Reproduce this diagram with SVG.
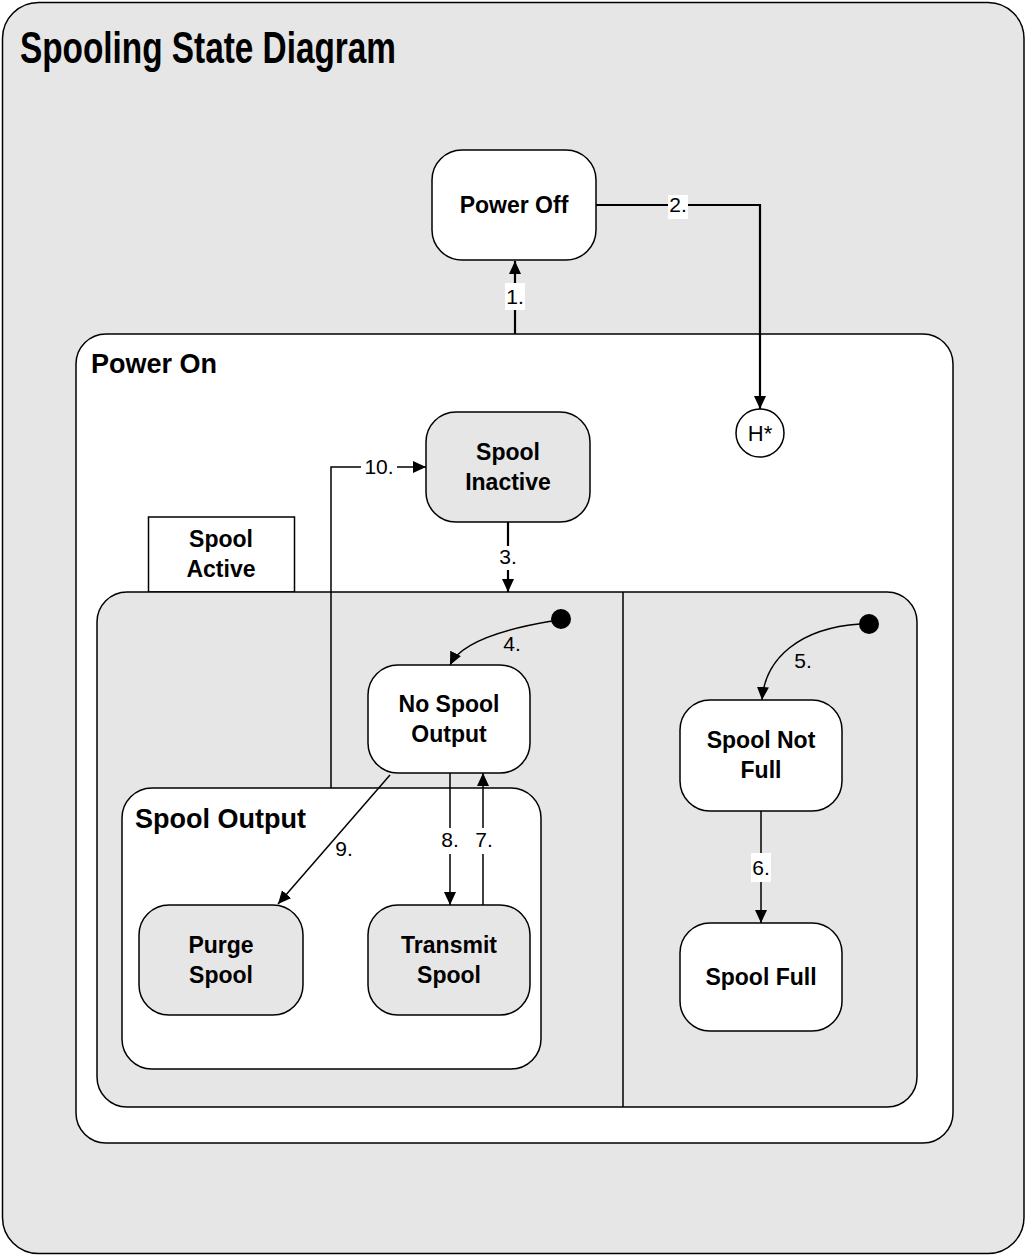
<svg xmlns="http://www.w3.org/2000/svg" width="1026" height="1256" viewBox="0 0 1026 1256">
<defs>
<style>
.frame{fill:#e6e6e6;stroke:#000;stroke-width:1.5}
.white{fill:#fff;stroke:#000;stroke-width:1.5}
.gray{fill:#e6e6e6;stroke:#000;stroke-width:1.5}
.line{fill:none;stroke:#000;stroke-width:1.5}
.thick{fill:none;stroke:#000;stroke-width:2.2}
.t{font-family:"Liberation Sans",Arial,sans-serif;font-weight:bold;font-size:23px;text-anchor:middle;fill:#000}
.h{font-family:"Liberation Sans",Arial,sans-serif;font-weight:bold;font-size:27px;fill:#000}
.n{font-family:"Liberation Sans",Arial,sans-serif;font-size:21px;text-anchor:middle;fill:#000}
.bg{fill:#fff;stroke:none}
</style>
<marker id="arr" markerUnits="userSpaceOnUse" markerWidth="14" markerHeight="14" viewBox="0 0 14 14" refX="13" refY="7" orient="auto">
<path d="M0,1 L13,7 L0,13 Z" fill="#000"/>
</marker>
</defs>

<g id="frame">
<rect class="frame" x="2.5" y="2.5" width="1021.5" height="1251" rx="36"/>
<text x="20" y="63" textLength="376" lengthAdjust="spacingAndGlyphs" style="font-family:'Liberation Sans',Arial,sans-serif;font-weight:bold;font-size:45px">Spooling State Diagram</text>
</g>

<g id="power-on">
<rect class="white" x="76" y="334" width="877" height="809" rx="30"/>
<text class="h" x="91" y="373">Power On</text>
</g>

<g id="spool-active">
<rect class="white" x="148.5" y="517" width="146" height="75"/>
<text class="t" x="221" y="547">Spool</text>
<text class="t" x="221" y="577">Active</text>
<rect class="gray" x="97" y="592" width="820" height="515" rx="30"/>
<line class="line" x1="623" y1="592" x2="623" y2="1107"/>
</g>

<g id="spool-output">
<rect class="white" x="122" y="788" width="419" height="281" rx="30"/>
<text class="h" x="135" y="828">Spool Output</text>
</g>

<g id="power-off">
<rect class="white" x="432" y="150" width="164" height="110" rx="30"/>
<text class="t" x="514" y="213">Power Off</text>
</g>

<g id="history">
<circle class="white" cx="760" cy="433" r="24"/>
<text class="n" x="760" y="441" style="font-size:22px">H*</text>
</g>

<g id="spool-inactive">
<rect class="gray" x="426" y="412" width="164" height="110" rx="30"/>
<text class="t" x="508" y="460">Spool</text>
<text class="t" x="508" y="490">Inactive</text>
</g>

<g id="init-1">
<circle cx="561" cy="619" r="10" fill="#000"/>
</g>
<g id="init-2">
<circle cx="869" cy="624" r="10" fill="#000"/>
</g>

<g id="no-spool-output">
<rect class="white" x="368" y="665" width="162" height="108" rx="30"/>
<text class="t" x="449" y="712">No Spool</text>
<text class="t" x="449" y="742">Output</text>
</g>

<g id="spool-not-full">
<rect class="white" x="680" y="700" width="162" height="111" rx="30"/>
<text class="t" x="761" y="748">Spool Not</text>
<text class="t" x="761" y="778">Full</text>
</g>

<g id="spool-full">
<rect class="white" x="680" y="923" width="162" height="108" rx="30"/>
<text class="t" x="761" y="985">Spool Full</text>
</g>

<g id="purge-spool">
<rect class="gray" x="139" y="905" width="164" height="110" rx="30"/>
<text class="t" x="221" y="953">Purge</text>
<text class="t" x="221" y="983">Spool</text>
</g>

<g id="transmit-spool">
<rect class="gray" x="368" y="905" width="162" height="110" rx="30"/>
<text class="t" x="449" y="953">Transmit</text>
<text class="t" x="449" y="983">Spool</text>
</g>

<g id="connectors">
<!-- 1 -->
<line class="thick" x1="515" y1="334" x2="515" y2="261" marker-end="url(#arr)"/>
<rect class="bg" x="505" y="283" width="20" height="27"/>
<text class="n" x="515" y="304">1.</text>
<!-- 2 -->
<polyline class="thick" points="596,205 760,205 760,409" marker-end="url(#arr)"/>
<rect class="bg" x="668" y="195" width="20" height="24"/>
<text class="n" x="678" y="212">2.</text>
<!-- 3 -->
<line class="thick" x1="508" y1="522" x2="508" y2="592" marker-end="url(#arr)"/>
<rect class="bg" x="498" y="546" width="20" height="24"/>
<text class="n" x="508" y="564">3.</text>
<!-- 4 -->
<path class="line" d="M552,621 C510,628 462,640 450,665" marker-end="url(#arr)"/>
<text class="n" x="512" y="651">4.</text>
<!-- 5 -->
<path class="line" d="M860,624 C800,628 765,658 762,700" marker-end="url(#arr)"/>
<text class="n" x="803" y="668">5.</text>
<!-- 6 -->
<line class="line" x1="761" y1="811" x2="761" y2="923" marker-end="url(#arr)"/>
<rect class="bg" x="751" y="853" width="20" height="29"/>
<text class="n" x="761" y="875">6.</text>
<!-- 7 -->
<line class="line" x1="483" y1="905" x2="483" y2="773" marker-end="url(#arr)"/>
<rect class="bg" x="473" y="828" width="20" height="26"/>
<text class="n" x="484" y="847">7.</text>
<!-- 8 -->
<line class="line" x1="450" y1="773" x2="450" y2="905" marker-end="url(#arr)"/>
<rect class="bg" x="440" y="828" width="20" height="26"/>
<text class="n" x="450" y="847">8.</text>
<!-- 9 -->
<line class="line" x1="390" y1="775" x2="278" y2="904" marker-end="url(#arr)"/>
<text class="n" x="344" y="856">9.</text>
<!-- 10 -->
<polyline class="line" points="331,788 331,467 426,467" marker-end="url(#arr)"/>
<rect class="bg" x="361" y="456" width="36" height="22"/>
<text class="n" x="379" y="474">10.</text>
</g>
</svg>
